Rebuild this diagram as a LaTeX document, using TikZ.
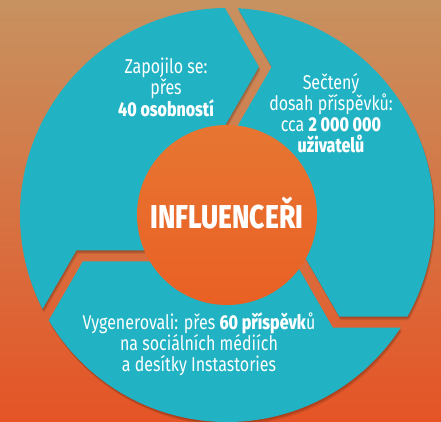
\documentclass[tikz,border=0pt]{standalone}
\usepackage{fontspec}
\setmainfont{Fira Sans}[FakeStretch=0.8, BoldFont={Fira Sans ExtraBold}]
\newfontfamily\hubfont{Fira Sans}[FakeStretch=0.8, BoldFont={Fira Sans ExtraBold}]
\definecolor{bgtop}{RGB}{199,146,96}
\definecolor{bgmid}{RGB}{231,110,46}
\definecolor{bgbot}{RGB}{229,84,38}
\definecolor{ringteal}{RGB}{33,179,196}
\definecolor{hubtop}{RGB}{231,118,50}
\definecolor{hubbot}{RGB}{233,96,36}

\begin{document}
\begin{tikzpicture}[x=1pt,y=1pt,
    infotext/.style={text=white, align=center, inner sep=0pt,
      font=\fontsize{20}{21}\selectfont},
    hubtext/.style={text=white, inner sep=0pt,
      font=\hubfont\bfseries\fontsize{33}{33}\selectfont},
    piece/.style={fill=ringteal},
    shadowpiece/.style={fill=black, opacity=0.09}]

    % Background
    \useasboundingbox (-227,-206) rectangle (214,215);
    \shade[top color=bgtop, middle color=bgmid, bottom color=bgbot]
        (-227,-206) rectangle (214,215);

    % Shadow of the ring
    \foreach \d in {1,2,3} {
        \begin{scope}[shift={(0.5*\d,-1.2*\d)}]
            \clip (0,0) circle[radius=207pt];
            \foreach \r in {0,120,240}
                \fill[shadowpiece, rotate=\r] (300,-101.7) -- (112.3,-101.7) -- (62.3,-15.1) -- (0,0)
                    -- (-5.35,61.5) -- (44.65,148.05) -- (-55.35,321.3) -- (300,300) -- cycle;
        \end{scope}
    }

    % Ring of three arrows
    \begin{scope}
        \clip (0,0) circle[radius=207pt];
        \foreach \r in {0,120,240}
            \fill[piece, rotate=\r] (300,-101.7) -- (112.3,-101.7) -- (62.3,-15.1) -- (0,0)
                -- (-5.35,61.5) -- (44.65,148.05) -- (-55.35,321.3) -- (300,300) -- cycle;
    \end{scope}

    % Hub
    \node (hub) [circle, minimum size=180pt, inner sep=0pt, top color=hubtop, bottom color=hubbot] at (0,0) {};
    \node (title) [hubtext, anchor=base] at (0,-13) {INFLUENCEŘI};

    % Texts on the ring
    \node (joined) [infotext] at (-61,128) {Zapojilo se:\\přes\\\textbf{40 osobností}};
    \node (reach) [infotext] at (104,102) {Sečtený\\dosah příspěvků:\\cca \textbf{2 000 000}\\\textbf{uživatelů}};
    \node (posts) [infotext] at (-28,-129) {Vygenerovali: přes \textbf{60 příspěvk}ů\\na sociálních médiích\\a desítky Instastories};
\end{tikzpicture}
\end{document}
